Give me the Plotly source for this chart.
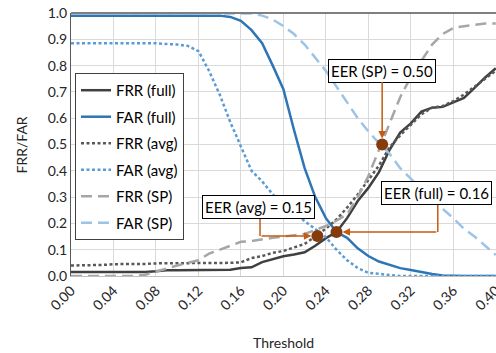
import plotly.graph_objects as go

thresholds = [0.00, 0.01, 0.02, 0.03, 0.04, 0.05, 0.06, 0.07, 0.08, 0.09,
              0.10, 0.11, 0.12, 0.13, 0.14, 0.15, 0.16, 0.17, 0.18, 0.19,
              0.20, 0.21, 0.22, 0.23, 0.24, 0.25, 0.26, 0.27, 0.28, 0.29,
              0.30, 0.31, 0.32, 0.33, 0.34, 0.35, 0.36, 0.37, 0.38, 0.39, 0.40]

frr_full = [0.015, 0.015, 0.015, 0.015, 0.015, 0.015, 0.015, 0.015, 0.018, 0.022,
            0.022, 0.022, 0.022, 0.022, 0.022, 0.024, 0.030, 0.033, 0.053, 0.065,
            0.075, 0.082, 0.090, 0.115, 0.144, 0.167, 0.220, 0.285, 0.335, 0.395,
            0.480, 0.545, 0.580, 0.625, 0.640, 0.643, 0.660, 0.677, 0.715, 0.755, 0.790]

far_full = [0.99, 0.99, 0.99, 0.99, 0.99, 0.99, 0.99, 0.99, 0.99, 0.99,
            0.99, 0.99, 0.99, 0.99, 0.99, 0.985, 0.97, 0.935, 0.885, 0.80,
            0.71, 0.555, 0.41, 0.30, 0.22, 0.167, 0.145, 0.105, 0.076, 0.055,
            0.042, 0.030, 0.023, 0.015, 0.008, 0.002, 0.0, 0.0, 0.0, 0.0, 0.0]

frr_avg = [0.040, 0.040, 0.040, 0.042, 0.045, 0.045, 0.045, 0.046, 0.048, 0.048,
           0.050, 0.050, 0.050, 0.050, 0.050, 0.050, 0.052, 0.068, 0.076, 0.088,
           0.095, 0.110, 0.122, 0.150, 0.180, 0.215, 0.260, 0.310, 0.365, 0.420,
           0.490, 0.535, 0.575, 0.615, 0.640, 0.646, 0.665, 0.690, 0.720, 0.750, 0.780]

far_avg = [0.885, 0.885, 0.885, 0.885, 0.885, 0.885, 0.885, 0.885, 0.885, 0.882,
           0.880, 0.875, 0.855, 0.780, 0.690, 0.585, 0.490, 0.400, 0.360, 0.310,
           0.270, 0.240, 0.210, 0.180, 0.148, 0.100, 0.060, 0.030, 0.012, 0.008,
           0.004, 0.0, 0.0, 0.0, 0.0, 0.0, 0.0, 0.0, 0.0, 0.0, 0.0]

frr_sp = [0.0, 0.0, 0.0, 0.0, 0.0, 0.0, 0.0, 0.005, 0.017, 0.028,
          0.040, 0.050, 0.060, 0.085, 0.100, 0.115, 0.130, 0.133, 0.140, 0.145,
          0.150, 0.155, 0.160, 0.175, 0.190, 0.210, 0.235, 0.300, 0.380, 0.480,
          0.580, 0.680, 0.757, 0.820, 0.880, 0.920, 0.943, 0.950, 0.955, 0.960, 0.960]

far_sp = [1.0, 1.0, 1.0, 1.0, 1.0, 1.0, 1.0, 1.0, 1.0, 1.0,
          1.0, 1.0, 1.0, 1.0, 1.0, 1.0, 1.0, 0.998, 0.99, 0.975,
          0.95, 0.92, 0.88, 0.83, 0.78, 0.72, 0.66, 0.60, 0.55, 0.505,
          0.465, 0.41, 0.37, 0.33, 0.29, 0.255, 0.22, 0.18, 0.15, 0.115, 0.08]

eer_labels = ["EER (SP) = 0.50", "EER (full) = 0.16", "EER (avg) = 0.15"]
eer_x = [0.293, 0.250, 0.232]
eer_y = [0.500, 0.167, 0.152]

x_ticks = [0.00, 0.04, 0.08, 0.12, 0.16, 0.20, 0.24, 0.28, 0.32, 0.36, 0.40]
y_ticks = [0.0, 0.1, 0.2, 0.3, 0.4, 0.5, 0.6, 0.7, 0.8, 0.9, 1.0]

FONT = "Lato"
ARROW = "#C55A11"
TXT = "#262626"

series = [
    ("FRR (full)", frr_full, "#404040", "solid", 2.5),
    ("FAR (full)", far_full, "#2E75B6", "solid", 2.5),
    ("FRR (avg)", frr_avg, "#595959", "3px,2.5px", 2.5),
    ("FAR (avg)", far_avg, "#5B9BD5", "3px,2.5px", 2.5),
    ("FRR (SP)", frr_sp, "#A6A6A6", "11px,6px", 2.5),
    ("FAR (SP)", far_sp, "#9DC3E6", "11px,6px", 2.5),
]

fig = go.Figure()
for i, (name, vals, color, dash, w) in enumerate(series):
    fig.add_trace(go.Scatter(
        x=thresholds, y=vals, mode="lines", name=name,
        line=dict(color=color, dash=dash, width=w),
        legendgroup=f"g{i}", hoverinfo="skip"))

fig.add_trace(go.Scatter(
    x=eer_x, y=eer_y, mode="markers", showlegend=False,
    marker=dict(color="#843C0C", size=12), hoverinfo="skip"))

box = dict(font=dict(family=FONT, size=15, color="#000000"),
           bgcolor="white", bordercolor="#000000", borderwidth=1, borderpad=2)

# EER (SP): straight arrow from box down to point
fig.add_annotation(x=eer_x[0], y=eer_y[0], text=eer_labels[0], showarrow=True,
                   ax=0, ay=-74, arrowcolor=ARROW, arrowwidth=1.5, arrowhead=2,
                   arrowsize=1, standoff=6, **box)

# EER (full): elbow connector
full_elbow_x = 0.3454
fig.add_annotation(x=0.3445, y=0.3175, text=eer_labels[1], showarrow=False, **box)
fig.add_shape(type="line", x0=full_elbow_x, x1=full_elbow_x, y0=0.278, y1=eer_y[1],
              line=dict(color=ARROW, width=1.5))
fig.add_annotation(x=eer_x[1], y=eer_y[1], ax=full_elbow_x, ay=eer_y[1],
                   axref="x", ayref="y", text="", showarrow=True,
                   arrowcolor=ARROW, arrowwidth=1.5, arrowhead=2, arrowsize=1, standoff=6)

# EER (avg): elbow connector
avg_elbow_x = 0.178
fig.add_annotation(x=0.177, y=0.262, text=eer_labels[2], showarrow=False, **box)
fig.add_shape(type="line", x0=avg_elbow_x, x1=avg_elbow_x, y0=0.224, y1=eer_y[2],
              line=dict(color=ARROW, width=1.5))
fig.add_annotation(x=eer_x[2], y=eer_y[2], ax=avg_elbow_x, ay=eer_y[2],
                   axref="x", ayref="y", text="", showarrow=True,
                   arrowcolor=ARROW, arrowwidth=1.5, arrowhead=2, arrowsize=1, standoff=6)

# axis titles
fig.add_annotation(xref="paper", yref="paper", x=-0.1153, y=0.5, text="FRR/FAR",
                   xanchor="center", yanchor="middle",
                   textangle=-90, showarrow=False,
                   font=dict(family=FONT, size=14, color=TXT))
fig.add_annotation(xref="paper", yref="paper", x=0.5, y=-0.251, text="Threshold",
                   xanchor="center", yanchor="middle",
                   showarrow=False, font=dict(family=FONT, size=14, color=TXT))

# top border line
fig.add_shape(type="line", xref="paper", yref="paper", x0=0, x1=1, y0=1, y1=1,
              line=dict(color="#7F7F7F", width=2))

fig.update_layout(
    width=496, height=353,
    margin=dict(l=71, r=0, t=13, b=77, autoexpand=False),
    paper_bgcolor="white", plot_bgcolor="white",
    font=dict(family=FONT, size=14, color=TXT),
    showlegend=True,
    legend=dict(x=0.0094, y=0.772, xanchor="left", yanchor="top",
                bgcolor="white", bordercolor="#404040", borderwidth=1,
                font=dict(family=FONT, size=15, color="#000000"),
                tracegroupgap=4, itemwidth=30),
    xaxis=dict(range=[0, 0.4002], tickvals=x_ticks, tickformat=".2f",
               tickangle=-45, showgrid=True, gridcolor="#D9D9D9", gridwidth=1,
               zeroline=False, showline=True, linecolor="#BFBFBF", linewidth=1,
               ticks="", ticklabeloverflow="allow",
               tickfont=dict(size=14, color=TXT)),
    yaxis=dict(range=[0, 1.0], tickvals=y_ticks, tickformat=".1f",
               showgrid=True, gridcolor="#D9D9D9", gridwidth=1,
               zeroline=False, showline=True, linecolor="#595959", linewidth=1,
               ticks="", tickfont=dict(size=14, color=TXT)),
)

fig.write_html("out.html", config={"displayModeBar": False},
               post_script="document.body.style.margin='0';document.body.style.overflow='hidden';")
